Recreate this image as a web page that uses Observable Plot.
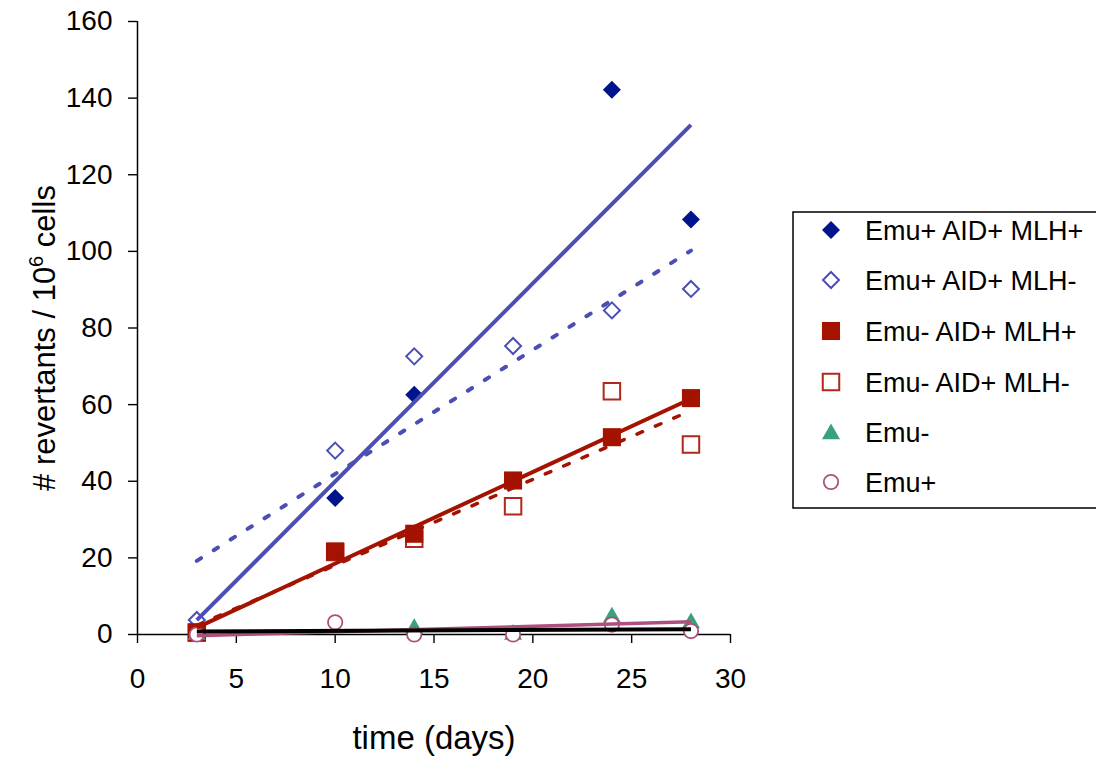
<!DOCTYPE html>
<html><head><meta charset="utf-8">
<script src="https://cdn.jsdelivr.net/npm/d3@7"></script>
<script src="https://cdn.jsdelivr.net/npm/@observablehq/plot@0.6"></script>
<style>
body{margin:0;background:#fff;}
#chart{position:relative;width:1096px;height:757px;overflow:hidden;}
svg{overflow:visible;}
</style>
</head><body><div id="chart"></div>
<script>
// ---- data ----
const seriesNames = ["Emu+ AID+ MLH+", "Emu+ AID+ MLH-", "Emu- AID+ MLH+", "Emu- AID+ MLH-", "Emu-", "Emu+"];

const daysA = [3, 10, 14, 24, 28];
const valsA = [1, 35.6, 62.6, 142.2, 108.3];          // Emu+ AID+ MLH+

const daysB = [3, 10, 14, 19, 24, 28];
const valsB = [3.8, 48.0, 72.6, 75.3, 84.6, 90.2];    // Emu+ AID+ MLH-

const daysC = [3, 10, 14, 19, 24, 28];
const valsC = [0.5, 21.7, 26.3, 40.2, 51.5, 61.7];    // Emu- AID+ MLH+

const daysD = [3, 10, 14, 19, 24, 28];
const valsD = [0.5, 21.5, 25.0, 33.5, 63.5, 49.6];    // Emu- AID+ MLH-

const daysE = [3, 14, 19, 24, 28];
const valsE = [0, 1.5, 0, 4.5, 3.0];                  // Emu-

const daysF = [3, 10, 14, 19, 24, 28];
const valsF = [0, 3.2, 0, 0, 2.6, 0.9];               // Emu+

const xTicks = [0, 5, 10, 15, 20, 25, 30];
const yTicks = [0, 20, 40, 60, 80, 100, 120, 140, 160];

// ---- table built from arrays ----
function rows(name, days, vals) { return days.map((d, i) => ({series: name, day: d, value: vals[i]})); }
const A = rows(seriesNames[0], daysA, valsA);
const B = rows(seriesNames[1], daysB, valsB);
const C = rows(seriesNames[2], daysC, valsC);
const D = rows(seriesNames[3], daysD, valsD);
const E = rows(seriesNames[4], daysE, valsE);
const F = rows(seriesNames[5], daysF, valsF);

// ---- styles ----
const navy = "#00148c", blue = "#4b4fb3", red = "#a31300", red2 = "#b0281a", green = "#3aa27a", pink = "#ad507e";
const marker = {
  [seriesNames[0]]: {symbol: "diamond2", r: 8.1, fill: navy, stroke: "none", sw: 0},
  [seriesNames[1]]: {symbol: "diamond2", r: 7.2, fill: "white", stroke: blue, sw: 2},
  [seriesNames[2]]: {symbol: "square", r: 10.2, fill: red, stroke: "none", sw: 0},
  [seriesNames[3]]: {symbol: "square", r: 9.3, fill: "white", stroke: red2, sw: 2},
  [seriesNames[4]]: {symbol: "triangle", r: 6.7, fill: green, stroke: "none", sw: 0},
  [seriesNames[5]]: {symbol: "circle", r: 7.2, fill: "white", stroke: pink, sw: 1.8}
};
function dots(data) {
  const m = marker[data[0].series];
  return Plot.dot(data, {x: "day", y: "value", symbol: () => m.symbol, r: m.r, fill: m.fill, stroke: m.stroke, strokeWidth: m.sw});
}
function reg(data, color, width, dash) {
  return Plot.linearRegressionY(data, {x: "day", y: "value", ci: 0, stroke: color, strokeWidth: width,
    strokeDasharray: dash, strokeLinecap: dash ? "round" : "butt"});
}

const font = "'Liberation Sans', Arial, sans-serif";
const svg = Plot.plot({
  width: 1096, height: 757,
  marginLeft: 137, marginRight: 366, marginTop: 21, marginBottom: 123,
  style: {fontFamily: font, background: "white", overflow: "visible"},
  x: {domain: [0, 30]},
  y: {domain: [0, 160]},
  symbol: {type: "identity"},
  marks: [
    Plot.axisY({ticks: yTicks, tickSize: 9, tickPadding: 16, fontSize: 28, label: null, strokeWidth: 1.4, color: "#000"}),
    Plot.axisX({ticks: xTicks, tickSize: 9, tickPadding: 25, fontSize: 28, label: null, strokeWidth: 1.4, color: "#000"}),
    Plot.ruleX([0], {stroke: "#000", strokeWidth: 1.5}),
    Plot.ruleY([0], {stroke: "#000", strokeWidth: 1.5}),
    dots(A), dots(B), dots(D), dots(C), dots(E), dots(F),
    reg(A, blue, 4, null),
    reg(B, blue, 4, "5,15"),
    reg(C, red, 4, null),
    reg(D, red, 3.5, "6,14"),
    reg(E, pink, 3.5, null),
    reg(F, "#000", 4, null),
    Plot.text(["time (days)"], {frameAnchor: "bottom", dy: 104, lineAnchor: "middle", fontSize: 33, fill: "#000"})
  ]
});
document.getElementById("chart").appendChild(svg);

// ---- y title with superscript ----
const s = d3.select(svg);
const yt = s.append("text")
  .attr("transform", "translate(55,338) rotate(-90)")
  .attr("text-anchor", "middle")
  .attr("font-family", font).attr("font-size", 31).attr("fill", "#000");
yt.append("tspan").text("# revertants / 10");
yt.append("tspan").attr("font-size", 20).attr("dy", -12).text("6");
yt.append("tspan").attr("dy", 12).text(" cells");

// ---- legend ----
const lg = s.append("g").attr("font-family", font).attr("font-size", 27).attr("text-anchor", "start");
lg.append("rect").attr("x", 793).attr("y", 212).attr("width", 330).attr("height", 296)
  .attr("fill", "white").attr("stroke", "#000").attr("stroke-width", 1.5);
const symMap = {diamond2: d3.symbolDiamond2, square: d3.symbolSquare, triangle: d3.symbolTriangle, circle: d3.symbolCircle};
const rowY = [230, 280, 331, 382, 432, 482];
seriesNames.forEach((name, i) => {
  const m = marker[name];
  lg.append("path")
    .attr("d", d3.symbol(symMap[m.symbol], Math.PI * m.r * m.r)())
    .attr("transform", `translate(831,${rowY[i] + (m.symbol === "triangle" ? 2 : 0)})`)
    .attr("fill", m.fill).attr("stroke", m.stroke).attr("stroke-width", m.sw);
  lg.append("text").attr("x", 865).attr("y", rowY[i]).attr("dy", "0.36em")
    .attr("text-anchor", "start").attr("fill", "#000").text(name);
});
</script>
</body></html>
